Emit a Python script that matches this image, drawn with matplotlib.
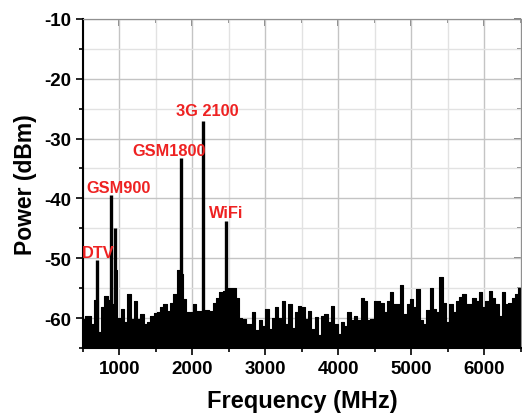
import matplotlib
matplotlib.use("Agg")
import matplotlib.pyplot as plt
import numpy as np
from matplotlib.ticker import MultipleLocator

plt.rcParams['font.family'] = ['Liberation Sans', 'DejaVu Sans']
plt.rcParams['font.weight'] = 'bold'
plt.rcParams['axes.unicode_minus'] = False

# noise floor, one sample every 45 MHz from 500 MHz
f_start = 500
f_step = 45
noise = [-60.2, -59.6, -59.6, -61, -57, -62.4, -58.2, -56.3, -57, -57.7,
         -52, -60, -58.5, -60.7, -56, -60.2, -57.1, -60.2, -59.3, -61,
         -60.7, -59.6, -59.2, -59, -58.2, -57.7, -58.8, -57.4, -56, -52,
         -52.7, -56.8, -59, -59, -57.6, -58.8, -58.8, -58.7, -58.7, -58.8,
         -57.4, -56.6, -55.7, -55.5, -55, -54.9, -55, -56.6, -60, -60.2,
         -61, -61, -59, -62, -60.4, -61.3, -58.5, -61.8, -60, -58.2,
         -60, -57.1, -61, -57.7, -61.6, -59, -57.9, -58.2, -60.2, -58.8,
         -61.8, -59.8, -62.9, -59.6, -59.3, -60.7, -57.9, -61, -62.7, -60.7,
         -61.3, -59, -60.4, -59.6, -60.4, -56.6, -57.1, -60.4, -60.2, -57.1,
         -57.1, -57.4, -59, -57.1, -55.7, -57.7, -57.7, -54.4, -59.3, -57.7,
         -56.8, -58.2, -55.1, -60.4, -61, -58.7, -54.9, -58.5, -59, -53.1,
         -57.4, -60.7, -57.7, -59, -57.1, -56.4, -56, -57.7, -57.7, -56.6,
         -57.1, -55.7, -58.2, -57.1, -55.4, -56.6, -57.7, -59.6, -55.7, -57.7,
         -57.4, -56.6, -56, -54.9, -55.2]

# signal peaks
peak_freq = [690, 880, 945, 1845, 2140, 2455]
peak_power = [-50.3, -39.5, -45, -33.2, -27, -43.8]

labels = ['DTV', 'GSM900', 'GSM1800', '3G 2100', 'WiFi']
label_x = [480, 540, 1170, 1780, 2230]
label_y = [-49, -38.2, -32, -25.3, -42.3]

freq = f_start + f_step * np.arange(len(noise))
floor = -65

fig = plt.figure(figsize=(5.22, 4.14), dpi=100)
ax = fig.add_axes([0.159, 0.157, 0.839, 0.795])

ax.fill_between(freq, noise, floor, step='mid', color='black', lw=0)
ax.step(freq, noise, where='mid', color='black', lw=0.8)
ax.vlines(peak_freq, floor, peak_power, color='black', lw=2.4)

for t, x, y in zip(labels, label_x, label_y):
    ax.text(x, y, t, color='#ee2222', fontsize=11.8, fontweight='bold',
            ha='left', va='center')

ax.set_xlim(500, 6500)
ax.set_ylim(-65, -10)
ax.xaxis.set_major_locator(MultipleLocator(1000))
ax.xaxis.set_minor_locator(MultipleLocator(500))
ax.yaxis.set_major_locator(MultipleLocator(10))
ax.yaxis.set_minor_locator(MultipleLocator(5))

ax.grid(which='major', color='#c4c4c4', lw=1.0)
ax.grid(which='minor', color='#e2e2e2', lw=1.0)
ax.set_axisbelow(True)

ax.tick_params(which='both', direction='out', labelsize=13.5, width=1.2)
ax.tick_params(which='major', length=5)
ax.tick_params(which='minor', length=3)
for lab in ax.get_xticklabels() + ax.get_yticklabels():
    lab.set_fontweight('bold')

# mirrored ticks on top and right, pointing inward
top = ax.secondary_xaxis('top')
right = ax.secondary_yaxis('right')
for sec in (top, right):
    sec.tick_params(which='both', direction='in', width=1.2, color='#707070',
                    labelleft=False, labelright=False, labeltop=False,
                    labelbottom=False)
    sec.tick_params(which='major', length=5)
    sec.tick_params(which='minor', length=3)
top.xaxis.set_major_locator(MultipleLocator(1000))
top.xaxis.set_minor_locator(MultipleLocator(500))
right.yaxis.set_major_locator(MultipleLocator(10))
right.yaxis.set_minor_locator(MultipleLocator(5))
top.spines['top'].set_color('#909090')
right.spines['right'].set_color('#909090')

for s in ['top', 'right']:
    ax.spines[s].set_color('#909090')
ax.spines['left'].set_linewidth(1.5)
ax.spines['bottom'].set_linewidth(1.5)

ax.set_xlabel('Frequency (MHz)', fontsize=17, fontweight='bold', labelpad=9)
ax.set_ylabel('Power (dBm)', fontsize=16.5, fontweight='bold', labelpad=5)

fig.savefig('out.png', dpi=100)
